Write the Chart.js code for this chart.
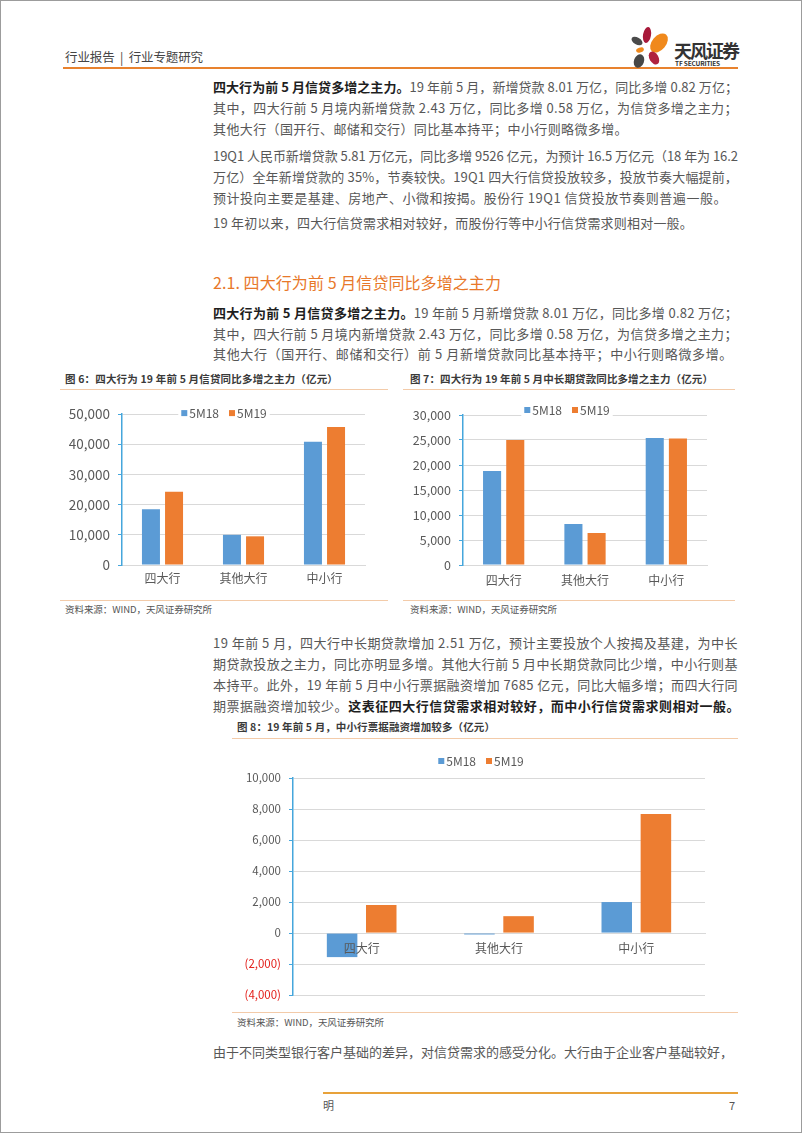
<!DOCTYPE html>
<html>
<head>
<meta charset="utf-8">
<script src="https://cdn.jsdelivr.net/npm/chart.js@4.4.1/dist/chart.umd.min.js"></script>
<style>
html, body { margin: 0; padding: 0; background: #fff; }
body { width: 802px; height: 1133px; position: relative; overflow: hidden; font-family: "Noto Sans CJK SC", "Noto Sans", sans-serif; }
.frame { position: absolute; left: 0; top: 0; width: 800px; height: 1131px; border: 1px solid #9c9c9c; }
.t { position: absolute; white-space: nowrap; }
.t span { display: inline-block; }
.p { left: 213px; font-size: 13px; line-height: 21px; height: 21px; color: #575757; }
.p b { color: #1e1e1e; }
.h2 { left: 213px; font-size: 16px; line-height: 22px; color: #e8782a; }
.ct { font-size: 10.5px; line-height: 14px; font-weight: bold; color: #3a3a3a; }
.src { font-size: 9.5px; line-height: 12px; color: #555; }
.rule { position: absolute; height: 1px; background: #f3cba9; }
.box { position: absolute; }
</style>
</head>
<body>
<div class="frame"></div>

<!-- header -->
<div class="t" style="left:65px;top:49px;font-size:12.5px;line-height:16px;color:#444;"><span data-w="138">行业报告 &nbsp;|&nbsp; 行业专题研究</span></div>
<div style="position:absolute;left:63px;top:67px;width:675px;height:2px;background:#e8822e;"></div>
<svg style="position:absolute;left:626px;top:24px;" width="46" height="46" viewBox="0 0 46 46">
  <ellipse cx="21" cy="11" rx="4" ry="8" fill="#a8193a" transform="rotate(10 21 11)"/>
  <ellipse cx="33" cy="19" rx="7" ry="11" fill="#f0891c" transform="rotate(40 33 19)"/>
  <ellipse cx="11" cy="17" rx="6" ry="3.5" fill="#4a4a4a" transform="rotate(30 11 17)"/>
  <ellipse cx="14" cy="26" rx="4" ry="2.5" fill="#f0891c" transform="rotate(-20 14 26)"/>
  <ellipse cx="28" cy="34" rx="4.5" ry="7" fill="#b0223f" transform="rotate(-30 28 34)"/>
  <ellipse cx="13" cy="37" rx="5" ry="7" fill="#474747" transform="rotate(20 13 37)"/>
</svg>
<div class="t" style="left:674px;top:39px;font-size:18px;line-height:22px;font-weight:bold;color:#333;"><span data-w="64">天风证券</span></div>
<div class="t" style="left:675px;top:59px;font-size:6.5px;line-height:8px;font-weight:bold;color:#333;"><span data-w="45">TF SECURITIES</span></div>

<!-- paragraph 1 -->
<div class="t p" style="top:76px;"><span data-w="525"><b>四大行为前 5 月信贷多增之主力。</b>19 年前 5 月，新增贷款 8.01 万亿，同比多增 0.82 万亿；</span></div>
<div class="t p" style="top:97px;"><span data-w="525">其中，四大行前 5 月境内新增贷款 2.43 万亿，同比多增 0.58 万亿，为信贷多增之主力；</span></div>
<div class="t p" style="top:118px;"><span data-w="415">其他大行（国开行、邮储和交行）同比基本持平；中小行则略微多增。</span></div>

<!-- paragraph 2 -->
<div class="t p" style="top:144.5px;"><span data-w="525">19Q1 人民币新增贷款 5.81 万亿元，同比多增 9526 亿元，为预计 16.5 万亿元（18 年为 16.2</span></div>
<div class="t p" style="top:165.5px;"><span data-w="525">万亿）全年新增贷款的 35%，节奏较快。19Q1 四大行信贷投放较多，投放节奏大幅提前，</span></div>
<div class="t p" style="top:186.5px;"><span data-w="514">预计投向主要是基建、房地产、小微和按揭。股份行 19Q1 信贷投放节奏则普遍一般。</span></div>

<!-- paragraph 3 -->
<div class="t p" style="top:211.5px;"><span data-w="480">19 年初以来，四大行信贷需求相对较好，而股份行等中小行信贷需求则相对一般。</span></div>

<!-- heading -->
<div class="t h2" style="top:271px;"><span data-w="288">2.1. 四大行为前 5 月信贷同比多增之主力</span></div>

<!-- paragraph 4 -->
<div class="t p" style="top:302px;"><span data-w="525"><b>四大行为前 5 月信贷多增之主力。</b>19 年前 5 月新增贷款 8.01 万亿，同比多增 0.82 万亿；</span></div>
<div class="t p" style="top:323px;"><span data-w="525">其中，四大行前 5 月境内新增贷款 2.43 万亿，同比多增 0.58 万亿，为信贷多增之主力；</span></div>
<div class="t p" style="top:343px;"><span data-w="520">其他大行（国开行、邮储和交行）前 5 月新增贷款同比基本持平；中小行则略微多增。</span></div>

<!-- figure 6 -->
<div class="t ct" style="left:65px;top:372px;"><span data-w="273">图 6：四大行为 19 年前 5 月信贷同比多增之主力（亿元）</span></div>
<div class="rule" style="left:60px;top:389px;width:328px;"></div>
<div class="box" style="left:62px;top:398px;width:318px;height:196px;"><canvas id="fig6"></canvas></div>
<div class="rule" style="left:60px;top:600px;width:328px;"></div>
<div class="t src" style="left:65px;top:603px;"><span data-w="147">资料来源：WIND，天风证券研究所</span></div>

<!-- figure 7 -->
<div class="t ct" style="left:410px;top:372px;"><span data-w="303">图 7：四大行为 19 年前 5 月中长期贷款同比多增之主力（亿元）</span></div>
<div class="rule" style="left:403px;top:389px;width:332px;"></div>
<div class="box" style="left:405px;top:398px;width:320px;height:196px;"><canvas id="fig7"></canvas></div>
<div class="rule" style="left:403px;top:600px;width:332px;"></div>
<div class="t src" style="left:410px;top:603px;"><span data-w="147">资料来源：WIND，天风证券研究所</span></div>

<!-- paragraph 5 -->
<div class="t p" style="top:632px;"><span data-w="525">19 年前 5 月，四大行中长期贷款增加 2.51 万亿，预计主要投放个人按揭及基建，为中长</span></div>
<div class="t p" style="top:653px;"><span data-w="525">期贷款投放之主力，同比亦明显多增。其他大行前 5 月中长期贷款同比少增，中小行则基</span></div>
<div class="t p" style="top:674px;"><span data-w="525">本持平。此外，19 年前 5 月中小行票据融资增加 7685 亿元，同比大幅多增；而四大行同</span></div>
<div class="t p" style="top:695px;"><span data-w="527">期票据融资增加较少。<b>这表征四大行信贷需求相对较好，而中小行信贷需求则相对一般。</b></span></div>

<!-- figure 8 -->
<div class="t ct" style="left:237px;top:720px;"><span data-w="258">图 8：19 年前 5 月，中小行票据融资增加较多（亿元）</span></div>
<div class="rule" style="left:232px;top:738px;width:506px;"></div>
<div class="box" style="left:237px;top:745px;width:480px;height:265px;"><canvas id="fig8"></canvas></div>
<div class="rule" style="left:232px;top:1012px;width:506px;"></div>
<div class="t src" style="left:237px;top:1016px;"><span data-w="147">资料来源：WIND，天风证券研究所</span></div>

<!-- paragraph 6 -->
<div class="t p" style="top:1041px;"><span data-w="520">由于不同类型银行客户基础的差异，对信贷需求的感受分化。大行由于企业客户基础较好，</span></div>

<!-- footer -->
<div style="position:absolute;left:323px;top:1092px;width:415px;height:2px;background:#e8a23a;"></div>
<div class="t" style="left:323px;top:1098px;font-size:11px;line-height:14px;color:#555;">明</div>
<div class="t" style="left:729px;top:1098px;font-size:11px;line-height:14px;color:#555;">7</div>

<script>
// ---------- data ----------
const categories = ['四大行', '其他大行', '中小行'];
const seriesNames = ['5M18', '5M19'];

// 图6 新增贷款（亿元）
const loans5M18 = [18500, 10000, 40800];
const loans5M19 = [24300, 9500, 45700];

// 图7 中长期贷款（亿元）
const midLong5M18 = [18800, 8200, 25400];
const midLong5M19 = [25000, 6400, 25300];

// 图8 票据融资（亿元）
const bills5M18 = [-1550, -90, 2000];
const bills5M19 = [1810, 1090, 7685];

// axis ranges [min, max, step]
const axis6 = [0, 50000, 10000];
const axis7 = [0, 30000, 5000];
const axis8 = [-4000, 10000, 2000];

// ---------- text fitting ----------
document.querySelectorAll('.t span[data-w]').forEach(el => {
    const target = +el.dataset.w;
    const w = el.getBoundingClientRect().width;
    const n = el.textContent.length;
    el.style.letterSpacing = ((target - w) / n) + 'px';
});

// ---------- charts ----------
const BLUE = '#5b9bd5';
const ORANGE = '#ed7d31';
const AXIS = '#45a6dc';
const GRID = '#d9d9d9';
const LABEL = '#595959';
const FONT = '"Noto Sans CJK SC", "Noto Sans", sans-serif';

function fmt(v) {
    const s = Math.abs(v).toLocaleString('en-US');
    return v < 0 ? '(' + s + ')' : s;
}

// legend drawn over the plot, with white backing like the original
const topLegend = {
    id: 'topLegend',
    afterDraw(chart, args, opts) {
        const ctx = chart.ctx;
        const sets = chart.data.datasets;
        ctx.save();
        ctx.font = opts.size + 'px ' + FONT;
        const widths = sets.map(d => ctx.measureText(d.label).width);
        let total = 0;
        widths.forEach(w => total += opts.box + 2 + w);
        total += 10 * (sets.length - 1);
        let x = opts.cx - total / 2;
        const y = chart.chartArea.top + opts.dy;
        ctx.fillStyle = '#fff';
        ctx.fillRect(x - 3, y - opts.size / 2 - 1, total + 6, opts.size + 2);
        ctx.textBaseline = 'middle';
        sets.forEach((d, i) => {
            ctx.fillStyle = d.backgroundColor;
            ctx.fillRect(x, y - opts.box / 2, opts.box, opts.box);
            x += opts.box + 2;
            ctx.fillStyle = LABEL;
            ctx.fillText(d.label, x, y + 0.5);
            x += widths[i] + 10;
        });
        ctx.restore();
    }
};

function makeChart(id, a, b, range, o) {
    return new Chart(document.getElementById(id), {
        type: 'bar',
        data: {
            labels: categories,
            datasets: [
                { label: seriesNames[0], data: a, backgroundColor: BLUE, categoryPercentage: 0.57, barPercentage: 0.78 },
                { label: seriesNames[1], data: b, backgroundColor: ORANGE, categoryPercentage: 0.57, barPercentage: 0.78 }
            ]
        },
        plugins: [topLegend],
        options: {
            responsive: true,
            maintainAspectRatio: false,
            animation: false,
            layout: { padding: { left: 0, right: o.padRight, top: o.padTop, bottom: 0 } },
            plugins: {
                legend: { display: false },
                tooltip: { enabled: false },
                topLegend: { cx: o.legendX, dy: o.legendDy, size: 12, box: 6 }
            },
            scales: {
                x: {
                    position: o.xPos,
                    grid: { display: false, drawTicks: false },
                    border: { color: GRID },
                    // labels drawn above the bars (the 四大行 label sits on the negative bar in fig 8)
                    ticks: { z: 1, color: LABEL, font: { family: FONT, size: 12 }, padding: o.xPad },
                    afterFit: s => { s.height = o.xH; }
                },
                y: {
                    min: range[0], max: range[1],
                    grid: { color: GRID, tickColor: AXIS, tickLength: 4 },
                    border: { color: AXIS, width: 1.5 },
                    ticks: {
                        stepSize: range[2],
                        callback: fmt,
                        padding: 8,
                        color: c => c.tick.value < 0 ? '#e3201b' : LABEL,
                        font: { family: FONT, size: o.ySize }
                    },
                    afterFit: s => { s.width = o.yW; }
                }
            }
        }
    });
}

makeChart('fig6', loans5M18, loans5M19, axis6,
    { padRight: 15, padTop: 14, yW: 60, xH: 29, xPad: 6, xPos: 'bottom', ySize: 13.5, legendX: 162, legendDy: -1 });
makeChart('fig7', midLong5M18, midLong5M19, axis7,
    { padRight: 18, padTop: 17, yW: 58, xH: 29, xPad: 8, xPos: 'bottom', ySize: 12.5, legendX: 162, legendDy: -5 });
makeChart('fig8', bills5M18, bills5M19, axis8,
    { padRight: 12, padTop: 33, yW: 56, xH: 16, xPad: 8, xPos: { y: 0 }, ySize: 11.5, legendX: 244, legendDy: -17 });
</script>
</body>
</html>
